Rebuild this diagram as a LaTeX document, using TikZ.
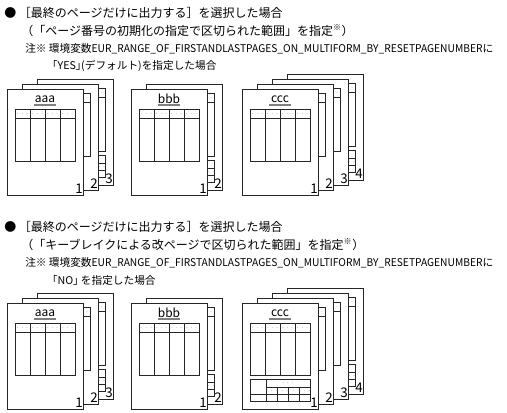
\documentclass[tikz,border=0pt]{standalone}
\usepackage{fontspec}
\usepackage{graphicx}
\setmainfont{Noto Sans CJK JP}

% the environment variable, set a little narrower as in the manual
\newcommand{\envvar}{\scalebox{0.96}[1]{EUR\_RANGE\_OF\_FIRSTANDLASTPAGES\_ON\_MULTIFORM\_BY\_RESETPAGENUMBER}}

% one printed sheet: name, x, y (top left), page number, title, footer table (1/0)
\newcommand{\bodytab}[1]{%
  \draw[tab] (8,#1) rectangle (68,72);
  \draw[tab] (8,#1+9) -- (68,#1+9);
  \foreach \c in {23,38,53} \draw[tab] (\c,#1) -- (\c,72);
  \foreach \c in {15.5,30.5,45.5,60.5} \node[dots] at (\c,#1+4.5) {$\cdots$};
}
\newcommand{\foottab}{%
  \draw[tab] (8,76) rectangle (68,98);
  \draw[tab] (24,76) -- (24,98);
  \draw[tab] (24,84) -- (68,84);
  \draw[tab] (8,91) -- (68,91);
  \foreach \c in {35,46,57} \draw[tab] (\c,84) -- (\c,98);
  \node[dots] at (46,80) {$\cdots$};
  \foreach \c in {29.5,40.5,51.5,62.5} \node[dots] at (\c,87.5) {$\cdots$};
}
\newcommand{\formsheet}[6]{%
  \begin{scope}[shift={(#2,#3)}]
    \draw[sheet] (0,0) rectangle (76,106);
    \ifx\relax#5\relax
      \bodytab{9}
    \else
      \node[ttl] (#1-t) at (38,10) {#5};
      \draw[uline] (27,16) -- (49,16);
      \bodytab{20}
    \fi
    \ifnum#6=1 \foottab\fi
    \node[pgno] (#1) at (76,104.5) {#4};
  \end{scope}}

\begin{document}
\begin{tikzpicture}[x=0.75pt, y=-0.75pt,
  sheet/.style={draw=black!85, fill=white, line width=0.6pt},
  tab/.style={draw=black!85, line width=0.6pt},
  dots/.style={font=\tiny, text=black!60, inner sep=0pt},
  ttl/.style={font=\fontsize{9}{9}\selectfont, inner sep=0pt},
  uline/.style={draw=gray, line width=1.5pt},
  pgno/.style={font=\fontsize{10}{10}\selectfont, anchor=south east, inner sep=0pt},
  head/.style={font=\fontsize{9}{11}\selectfont, anchor=west, inner sep=0pt},
  note/.style={font=\fontsize{8}{10}\selectfont, anchor=west, inner sep=0pt},
]
\useasboundingbox (0,0) rectangle (507,413);

% first case: YES
\node[head] (h1) at (4,13) {●\ ［最終のページだけに出力する］を選択した場合};
\node[head] (h1b) at (21,31) {（「ページ番号の初期化の指定で区切られた範囲」を指定\textsuperscript{※}）};
\node[note] (n1) at (25,49) {注※\ 環境変数\envvar に};
\node[note] (n1b) at (52,66) {｢YES｣(デフォルト)を指定した場合};

\formsheet{a3}{37}{79}{3}{}{1}
\formsheet{a2}{22}{84}{2}{}{0}
\formsheet{a1}{7}{89}{1}{aaa}{0}
\formsheet{b2}{146}{84}{2}{}{1}
\formsheet{b1}{131}{89}{1}{bbb}{0}
\formsheet{c4}{287}{74}{4}{}{1}
\formsheet{c3}{272}{79}{3}{}{0}
\formsheet{c2}{257}{84}{2}{}{0}
\formsheet{c1}{242}{89}{1}{ccc}{0}

% second case: NO
\node[head] (h2) at (4,227) {●\ ［最終のページだけに出力する］を選択した場合};
\node[head] (h2b) at (21,245) {（「キーブレイクによる改ページで区切られた範囲」を指定\textsuperscript{※}）};
\node[note] (n2) at (25,263) {注※\ 環境変数\envvar に};
\node[note] (n2b) at (52,280) {｢NO｣\ を指定した場合};

\formsheet{d3}{37}{293}{3}{}{1}
\formsheet{d2}{22}{298}{2}{}{0}
\formsheet{d1}{7}{303}{1}{aaa}{0}
\formsheet{e2}{146}{298}{2}{}{1}
\formsheet{e1}{131}{303}{1}{bbb}{0}
\formsheet{f4}{287}{288}{4}{}{1}
\formsheet{f3}{272}{293}{3}{}{0}
\formsheet{f2}{257}{298}{2}{}{0}
\formsheet{f1}{242}{303}{1}{ccc}{1}
\end{tikzpicture}
\end{document}
